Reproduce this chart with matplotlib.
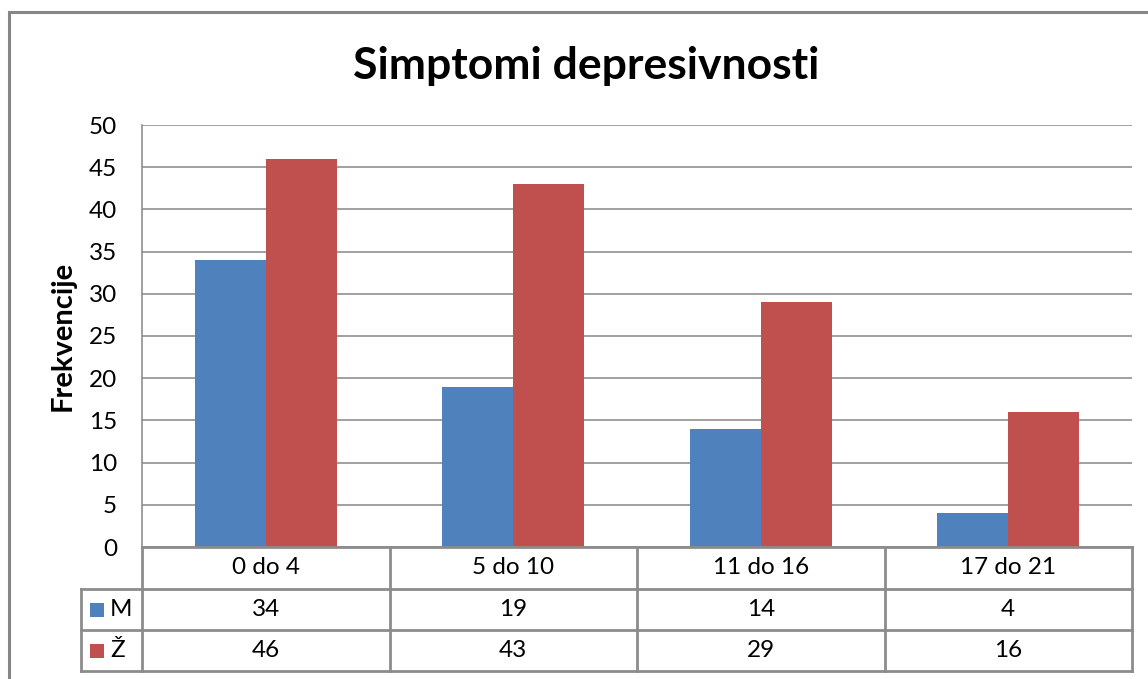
import matplotlib
matplotlib.use("Agg")
import matplotlib.pyplot as plt
from matplotlib.patches import Rectangle
from matplotlib.lines import Line2D

categories = ["0 do 4", "5 do 10", "11 do 16", "17 do 21"]
series_names = ["M", "Ž"]
m_values = [34, 19, 14, 4]
z_values = [46, 43, 29, 16]
yticks = [0, 5, 10, 15, 20, 25, 30, 35, 40, 45, 50]
title = "Simptomi depresivnosti"
ylabel = "Frekvencije"

colors = ["#4F81BD", "#C0504D"]
grid_c = "#868686"
FONT = ["Lato", "DejaVu Sans"]
plt.rcParams['font.family'] = FONT
FS = 17.5

W, H = 1148, 679
fig = plt.figure(figsize=(W / 100, H / 100), dpi=100)

def fx(px):
    return px / W

def fy(py):
    return 1 - py / H

# outer chart border
fig.add_artist(Rectangle((fx(8.5), fy(700)), fx(1160), fy(12.5) - fy(700),
                         transform=fig.transFigure, fill=False,
                         edgecolor="#868686", linewidth=2.2))

L, R, T, B = 142, 1132, 125, 547
ax = fig.add_axes([fx(L), fy(B), fx(R - L), fy(T) - fy(B)])
n = len(categories)
bw = 0.287
xs = [i + 0.5 for i in range(n)]
ax.bar([x - bw / 2 for x in xs], m_values, width=bw, color=colors[0], zorder=3)
ax.bar([x + bw / 2 for x in xs], z_values, width=bw, color=colors[1], zorder=3)
ax.set_xlim(0, n)
ax.set_ylim(0, 50)
ax.set_yticks(yticks)
ax.set_yticklabels([str(v) for v in yticks], fontsize=FS)
ax.set_xticks([])
ax.tick_params(axis='y', length=0, pad=18)
ax.yaxis.grid(True, color=grid_c, linewidth=1.1, zorder=0)
for s in ["top", "right", "bottom"]:
    ax.spines[s].set_visible(False)
ax.spines["left"].set_color(grid_c)
ax.spines["left"].set_linewidth(1.1)

fig.text(fx(586), fy(66), title, ha="center", va="center",
         fontsize=32, fontweight="bold")
fig.text(fx(63), fy(336), ylabel, ha="center", va="center",
         rotation=90, fontsize=21, fontweight="bold")

# data table
row_y = [547, 589, 630, 671]
col_x = [L + (R - L) * i / n for i in range(n + 1)]
lc = "#8c8c8c"
lw = 2.0

def hline(x0, x1, y):
    fig.add_artist(Line2D([fx(x0), fx(x1)], [fy(y), fy(y)], color=lc,
                          linewidth=lw, transform=fig.transFigure))

def vline(x, y0, y1):
    fig.add_artist(Line2D([fx(x), fx(x)], [fy(y0), fy(y1)], color=lc,
                          linewidth=lw, transform=fig.transFigure))

hline(L, R, row_y[0])
hline(81, R, row_y[1])
hline(81, R, row_y[2])
hline(81, R, row_y[3])
for x in col_x:
    vline(x, row_y[0], row_y[3])
vline(81, row_y[1], row_y[3])

for i, cat in enumerate(categories):
    cx = (col_x[i] + col_x[i + 1]) / 2
    fig.text(fx(cx), fy((row_y[0] + row_y[1]) / 2), cat, ha="center",
             va="center", fontsize=FS)
    fig.text(fx(cx), fy((row_y[1] + row_y[2]) / 2), str(m_values[i]),
             ha="center", va="center", fontsize=FS)
    fig.text(fx(cx), fy((row_y[2] + row_y[3]) / 2), str(z_values[i]),
             ha="center", va="center", fontsize=FS)

for k, name in enumerate(series_names):
    yc = (row_y[k + 1] + row_y[k + 2]) / 2
    fig.add_artist(Rectangle((fx(90), fy(yc + 7)), fx(14), fy(yc - 7) - fy(yc + 7),
                             transform=fig.transFigure, facecolor=colors[k],
                             edgecolor="none"))
    fig.text(fx(110), fy(yc), name, ha="left", va="center", fontsize=FS)

fig.savefig("out.png", dpi=100)
